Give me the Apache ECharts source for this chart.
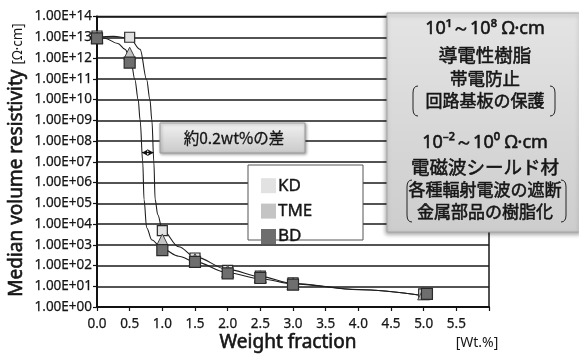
<!DOCTYPE html>
<html>
<head>
<meta charset="utf-8">
<script src="https://cdn.jsdelivr.net/npm/echarts@6/dist/echarts.min.js"></script>
<style>
  html, body { margin: 0; padding: 0; background: #fff; }
  #chart { width: 579px; height: 356px; }
</style>
</head>
<body>
<div id="chart"></div>
<script>
// Measured median volume resistivity [Ω·cm] vs filler weight fraction [wt.%]
const kdWt   = [0, 0.5, 1.0, 1.5, 2.0, 2.5, 3.0, 5.0];
const kdRho  = [1.15e13, 1.0e13, 4.8e3, 2.3e2, 58, 31, 14.5, 4.3];
const tmeWt  = [0, 0.5, 1.0, 1.5, 2.0, 2.5, 3.0, 5.0];
const tmeRho = [1.0e13, 1.7e12, 1.7e3, 1.9e2, 52, 29, 13.5, 4.3];
const bdWt   = [0, 0.5, 1.0, 1.5, 2.0, 2.5, 3.0, 5.05];
const bdRho  = [0.88e13, 6.0e11, 5.5e2, 1.5e2, 42, 25, 12, 4.3];

// Fitted trend curves (KD: right curve, BD: left curve)
const kdFitWt  = [0, 0.25, 0.5, 0.66, 0.76, 0.81, 0.84, 0.87, 0.89, 0.93, 1.0, 1.25, 1.5, 2.0, 2.5, 3.0, 4.0, 5.0];
const kdFitRho = [1e13, 1.1e13, 9e12, 2.6e12, 9e10, 1e10, 1e9, 1e7, 1.5e5, 2.8e4, 5.2e3, 8e2, 2.6e2, 65, 29, 13.5, 7, 3.5];
const bdFitWt  = [0, 0.12, 0.32, 0.43, 0.52, 0.58, 0.63, 0.66, 0.70, 0.72, 0.76, 0.84, 1.0, 1.25, 1.5, 2.0, 2.5, 3.0, 4.0, 5.0];
const bdFitRho = [1e13, 9e12, 5e12, 2.6e12, 7e11, 9e10, 1e10, 1e9, 1e7, 1.5e5, 6.6e3, 1.7e3, 6.3e2, 2.8e2, 1.5e2, 45, 23, 13, 6.8, 3.5];

// Gap between the two curves at the transition
const gapFrom = 0.69, gapTo = 0.865, gapRho = 2.75e7;

const xTicks = ['0.0','0.5','1.0','1.5','2.0','2.5','3.0','3.5','4.0','4.5','5.0','5.5'];

const seriesNames  = ['KD', 'TME', 'BD'];
const seriesColors = ['#e2e2e2', '#c4c4c4', '#6e6e6e'];

const zip = (xs, ys) => xs.map((x, i) => [x, ys[i]]);

const chart = echarts.init(document.getElementById('chart'), null, { renderer: 'canvas' });

const latin = '"Noto Sans", "DejaVu Sans", sans-serif';
const jp = '"Noto Sans CJK JP", "Noto Sans", sans-serif';
const ink = '#161616';

function bracket(xOuter, xInner, top, bottom, z) {
  // thin round bracket drawn from two quadratic ends and a straight middle
  const r = 7;
  const style = { stroke: '#222', lineWidth: 1, fill: null };
  return [
    { type: 'bezierCurve', z, shape: { x1: xOuter, y1: top, cpx1: xInner, cpy1: top, x2: xInner, y2: top + r }, style },
    { type: 'line', z, shape: { x1: xInner, y1: top + r, x2: xInner, y2: bottom - r }, style },
    { type: 'bezierCurve', z, shape: { x1: xInner, y1: bottom - r, cpx1: xInner, cpy1: bottom, x2: xOuter, y2: bottom }, style }
  ];
}

const boxTexts = [
  { t: '10¹～10⁸ Ω·cm', y: 29, s: 18, f: latin },
  { t: '導電性樹脂', y: 55, s: 18.5, f: jp },
  { t: '帯電防止', y: 78, s: 17.5, f: jp },
  { t: '回路基板の保護', y: 101, s: 17, f: jp },
  { t: '10⁻²～10⁰ Ω·cm', y: 143, s: 18, f: latin },
  { t: '電磁波シールド材', y: 167, s: 18.5, f: jp },
  { t: '各種輻射電波の遮断', y: 190, s: 17, f: jp },
  { t: '金属部品の樹脂化', y: 212, s: 17, f: jp }
];

const graphics = [
  // y axis title
  {
    type: 'text', x: 17, y: 160, rotation: Math.PI / 2, z: 10,
    style: {
      text: '{a|Median volume resistivity }{b|[Ω·cm]}',
      align: 'center', verticalAlign: 'middle',
      rich: {
        a: { fontSize: 19, fontFamily: latin, fill: ink, stroke: ink, lineWidth: 0.6 },
        b: { fontSize: 13.5, fontFamily: latin, fill: ink, padding: [3, 0, 0, 0] }
      }
    }
  },
  // x axis title and unit
  { type: 'text', x: 288, y: 343, z: 10, style: { text: 'Weight fraction', fontSize: 19, fontFamily: latin, fill: ink, stroke: ink, lineWidth: 0.6, align: 'center', verticalAlign: 'middle' } },
  { type: 'text', x: 477, y: 343, z: 10, style: { text: '[Wt.%]', fontSize: 14, fontFamily: latin, fill: ink, align: 'center', verticalAlign: 'middle' } },
  // difference call-out
  {
    type: 'rect', z: 20, shape: { x: 160, y: 123, width: 145, height: 30 },
    style: {
      fill: new echarts.graphic.LinearGradient(0, 0, 0, 1, [{ offset: 0, color: '#f2f2f2' }, { offset: 1, color: '#c9c9c9' }]),
      stroke: '#9a9a9a', lineWidth: 1, shadowBlur: 3, shadowColor: 'rgba(0,0,0,0.35)', shadowOffsetX: 1, shadowOffsetY: 1
    }
  },
  { type: 'text', x: 234, y: 138, z: 21, style: { text: '約0.2wt%の差', fontSize: 15.5, fontFamily: jp, fill: ink, stroke: ink, lineWidth: 0.3, align: 'center', verticalAlign: 'middle' } },
  // legend frame
  { type: 'rect', z: 20, shape: { x: 248, y: 165, width: 115, height: 75 }, style: { fill: '#fff', stroke: '#555', lineWidth: 1 } },
  // application panel
  {
    type: 'rect', z: 20, shape: { x: 387, y: 13, width: 194, height: 219 },
    style: {
      fill: new echarts.graphic.LinearGradient(0, 0, 0, 1, [{ offset: 0, color: '#e4e4e4' }, { offset: 1, color: '#cdcdcd' }]),
      stroke: '#a6a6a6', lineWidth: 1, shadowBlur: 4, shadowColor: 'rgba(0,0,0,0.35)', shadowOffsetX: -1, shadowOffsetY: 2
    }
  },
  ...boxTexts.map(b => ({
    type: 'text', x: 485, y: b.y, z: 21,
    style: { text: b.t, fontSize: b.s, fontFamily: b.f, fill: ink, stroke: ink, lineWidth: 0.55, align: 'center', verticalAlign: 'middle' }
  })),
  ...bracket(418, 413, 86, 116, 21),
  ...bracket(550, 555, 86, 116, 21),
  ...bracket(412, 407, 180, 222, 21),
  ...bracket(561, 566, 180, 222, 21)
];

const curveStyle = { color: '#1e1e1e', width: 1.1 };

const option = {
  animation: false,
  backgroundColor: '#fff',
  grid: { left: 97, right: 90, top: 16.5, bottom: 49, show: true, borderColor: '#1a1a1a', borderWidth: 1.5, backgroundColor: 'transparent' },
  xAxis: {
    type: 'value', min: 0, max: 6, interval: 0.5,
    axisLine: { show: true, onZero: false, lineStyle: { color: '#111', width: 2 } },
    axisTick: { show: true, length: 4, lineStyle: { color: '#111', width: 1.2 } },
    axisLabel: {
      color: ink, fontSize: 13.5, fontFamily: latin, margin: 10, textBorderColor: ink, textBorderWidth: 0.25,
      formatter: v => { const i = Math.round(v / 0.5); return i < xTicks.length ? xTicks[i] : ''; }
    },
    splitLine: { show: false }
  },
  yAxis: {
    type: 'log', logBase: 10, min: 1, max: 1e14, interval: 1,
    axisLine: { show: true, lineStyle: { color: '#111', width: 2 } },
    axisTick: { show: true, length: 4, lineStyle: { color: '#111', width: 1.2 } },
    axisLabel: {
      color: ink, fontSize: 13.5, fontFamily: latin, margin: 5, interval: 0, hideOverlap: false,
      textBorderColor: ink, textBorderWidth: 0.25,
      formatter: v => '1.00E+' + String(Math.round(Math.log10(v))).padStart(2, '0')
    },
    splitLine: { show: true, lineStyle: { color: '#1a1a1a', width: 1.7 } },
    minorTick: { show: false }
  },
  legend: {
    data: seriesNames, orient: 'vertical', left: 256, top: 172, z: 25,
    icon: 'rect', itemWidth: 15, itemHeight: 15, itemGap: 8,
    textStyle: { fontSize: 17, fontFamily: latin, color: ink, textBorderColor: ink, textBorderWidth: 0.4, padding: [0, 0, 0, -3] },
    itemStyle: { borderWidth: 0 },
    selectedMode: false
  },
  graphic: graphics,
  series: [
    {
      name: 'KD fit', type: 'line', data: zip(kdFitWt, kdFitRho), showSymbol: false, symbol: 'none',
      smooth: 0.35, smoothMonotone: 'x', lineStyle: curveStyle, z: 3, silent: true
    },
    {
      name: 'BD fit', type: 'line', data: zip(bdFitWt, bdFitRho), showSymbol: false, symbol: 'none',
      smooth: 0.35, smoothMonotone: 'x', lineStyle: curveStyle, z: 3, silent: true,
      markLine: {
        silent: true, symbol: ['arrow', 'arrow'], symbolSize: [5, 6],
        lineStyle: { color: '#111', width: 1.2, type: 'solid' }, label: { show: false },
        data: [[{ coord: [gapFrom, gapRho] }, { coord: [gapTo, gapRho] }]]
      }
    },
    {
      name: 'KD', type: 'scatter', data: zip(kdWt, kdRho), symbol: 'rect', symbolSize: 10, z: 5,
      itemStyle: { color: seriesColors[0], borderColor: '#2a2a2a', borderWidth: 1.2, opacity: 1 }
    },
    {
      name: 'TME', type: 'scatter', data: zip(tmeWt, tmeRho), symbol: 'triangle', symbolSize: 12, z: 6,
      itemStyle: { color: seriesColors[1], borderColor: '#444', borderWidth: 1, opacity: 1 }
    },
    {
      name: 'BD', type: 'scatter', data: zip(bdWt, bdRho), symbol: 'rect', symbolSize: 11, z: 7,
      itemStyle: { color: seriesColors[2], borderColor: '#2a2a2a', borderWidth: 1.2, opacity: 1 }
    }
  ]
};

chart.setOption(option);
</script>
</body>
</html>
